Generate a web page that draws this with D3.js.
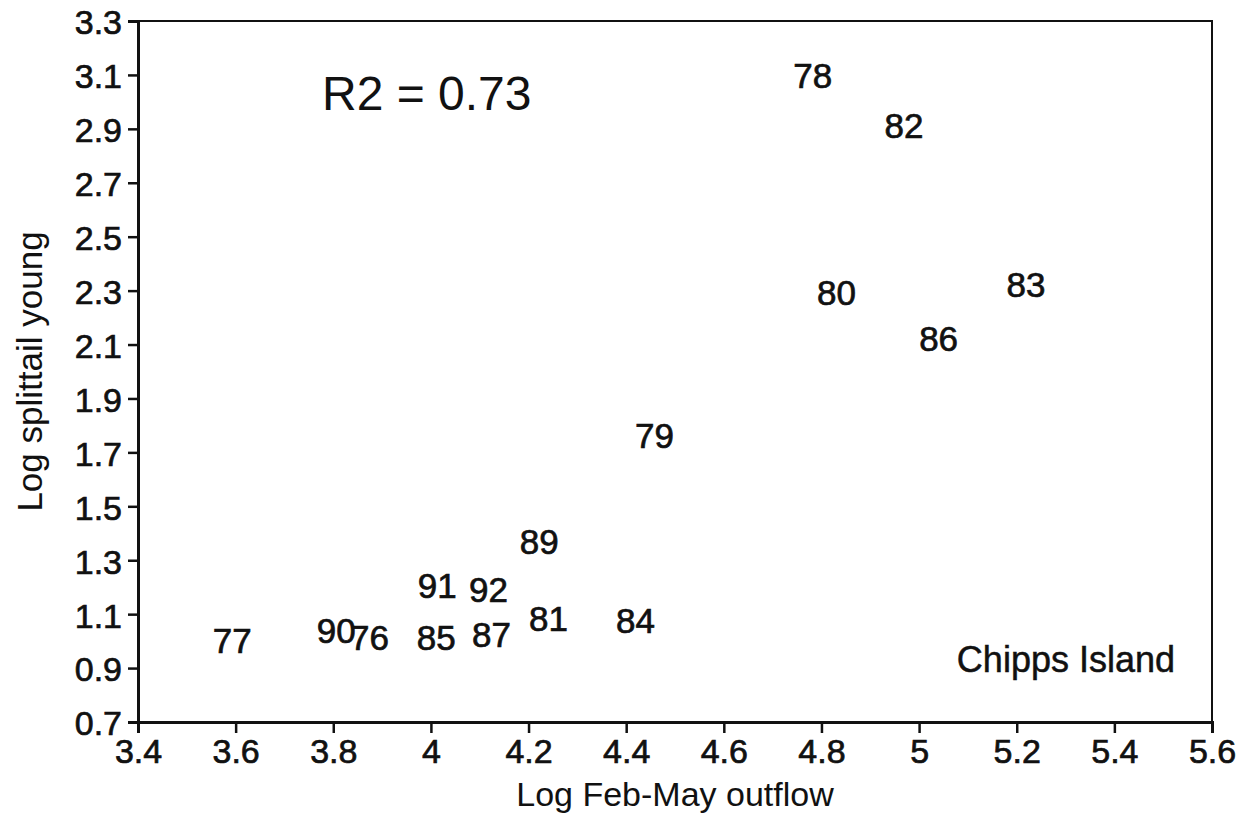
<!DOCTYPE html>
<html>
<head>
<meta charset="utf-8">
<script src="https://cdnjs.cloudflare.com/ajax/libs/d3/7.8.5/d3.min.js"></script>
<style>
  body { margin: 0; background: #fff; }
  svg text { font-family: "Liberation Sans", Arial, sans-serif; fill: #111; }
</style>
</head>
<body>
<svg id="chart"></svg>
<script>
// years (labels) and their log values
const years = ["76", "77", "78", "79", "80", "81", "82", "83", "84", "85", "86", "87", "89", "90", "91", "92"];
const logOutflow = [3.874, 3.593, 4.782, 4.458, 4.831, 4.241, 4.969, 5.219, 4.419, 4.011, 5.04, 4.124, 4.222, 3.806, 4.013, 4.118];
const logYoung = [1.015, 1.004, 3.10, 1.764, 2.295, 1.086, 2.914, 2.324, 1.078, 1.015, 2.124, 1.026, 1.368, 1.041, 1.208, 1.193];

const xTicks = [3.4, 3.6, 3.8, 4, 4.2, 4.4, 4.6, 4.8, 5, 5.2, 5.4, 5.6];
const yTicks = [0.7, 0.9, 1.1, 1.3, 1.5, 1.7, 1.9, 2.1, 2.3, 2.5, 2.7, 2.9, 3.1, 3.3];

const width = 1245;
const height = 820;
const margin = { top: 21, right: 33, bottom: 98, left: 138 };

const svg = d3.select("#chart")
  .attr("width", width)
  .attr("height", height);

const x = d3.scaleLinear()
  .domain([3.4, 5.6])
  .range([margin.left, width - margin.right]);

const y = d3.scaleLinear()
  .domain([0.7, 3.3])
  .range([height - margin.bottom, margin.top]);

// frame (top and right)
svg.append("rect")
  .attr("x", x(3.4))
  .attr("y", y(3.3))
  .attr("width", x(5.6) - x(3.4))
  .attr("height", y(0.7) - y(3.3))
  .attr("fill", "none")
  .attr("stroke", "#111")
  .attr("stroke-width", 2);

const xAxis = svg.append("g")
  .attr("transform", `translate(0,${y(0.7)})`)
  .call(d3.axisBottom(x).tickValues(xTicks).tickSize(11).tickPadding(6).tickFormat(d3.format("")));

const yAxis = svg.append("g")
  .attr("transform", `translate(${x(3.4)},0)`)
  .call(d3.axisLeft(y).tickValues(yTicks).tickSize(10).tickPadding(6).tickFormat(d3.format(".1f")));

[xAxis, yAxis].forEach((g) => {
  g.select(".domain").attr("stroke", "#111").attr("stroke-width", 3);
  g.selectAll(".tick line").attr("stroke", "#111").attr("stroke-width", 2.5);
  g.selectAll(".tick text")
    .attr("font-size", "34px")
    .attr("fill", "#111")
    .attr("stroke", "#111")
    .attr("stroke-width", 0.7)
    .attr("font-family", "Liberation Sans, Arial, sans-serif");
});
yAxis.selectAll(".tick text").attr("dy", "0.38em");

// year labels as the markers (90 and 76 overlap in the original too)
svg.append("g")
  .selectAll("text")
  .data(years)
  .join("text")
  .attr("x", (d, i) => x(logOutflow[i]))
  .attr("y", (d, i) => y(logYoung[i]))
  .attr("dy", "0.36em")
  .attr("text-anchor", "middle")
  .attr("font-size", "35px")
  .attr("stroke", "#111")
  .attr("stroke-width", 0.7)
  .text((d) => d);

svg.append("text")
  .attr("x", 322)
  .attr("y", 110)
  .attr("font-size", "48px")
  .text("R2 = 0.73");

svg.append("text")
  .attr("x", 1175)
  .attr("y", 672)
  .attr("text-anchor", "end")
  .attr("font-size", "36px")
  .attr("stroke", "#111")
  .attr("stroke-width", 0.5)
  .text("Chipps Island");

// axis titles
svg.append("text")
  .attr("x", (x(3.4) + x(5.6)) / 2)
  .attr("y", 806)
  .attr("text-anchor", "middle")
  .attr("font-size", "34px")
  .text("Log Feb-May outflow");

svg.append("text")
  .attr("transform", `translate(42,${(y(0.7) + y(3.3)) / 2}) rotate(-90)`)
  .attr("text-anchor", "middle")
  .attr("font-size", "35px")
  .text("Log splittail young");
</script>
</body>
</html>
